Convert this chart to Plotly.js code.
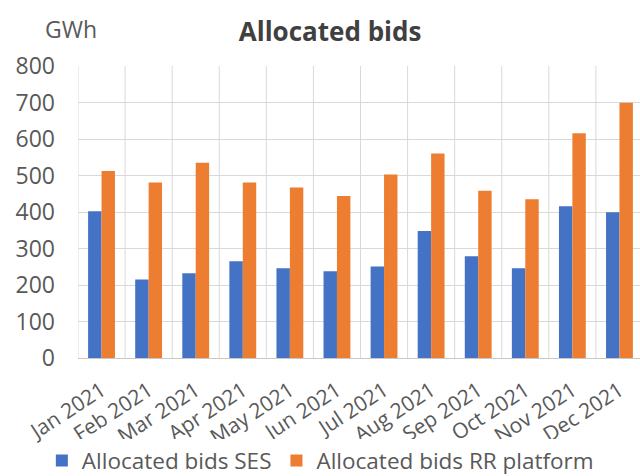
<!DOCTYPE html>
<html>
<head>
<meta charset="utf-8">
<script src="https://cdn.plot.ly/plotly-3.0.1.min.js"></script>
<style>
html,body{margin:0;padding:0;overflow:hidden;background:#fff;}
#chart{width:646px;height:476px;}
</style>
</head>
<body>
<div id="chart"></div>
<script>
var months = ["Jan 2021","Feb 2021","Mar 2021","Apr 2021","May 2021","Jun 2021","Jul 2021","Aug 2021","Sep 2021","Oct 2021","Nov 2021","Dec 2021"];
var sesValues = [402, 215, 232, 265, 246, 238, 251, 348, 279, 246, 416, 399];
var rrValues = [512, 481, 535, 481, 467, 444, 503, 560, 458, 435, 616, 699];
var yTicks = [0, 100, 200, 300, 400, 500, 600, 700, 800];

var FONT = "Open Sans, Noto Sans, sans-serif";
var GREY = "#595959";

var traces = [
  {type: "bar", name: "Allocated bids SES", x: months, y: sesValues, marker: {color: "#4472C4"}},
  {type: "bar", name: "Allocated bids RR platform", x: months, y: rrValues, marker: {color: "#ED7D31"}}
];

var layout = {
  width: 646, height: 476,
  margin: {l: 78, r: 3, t: 66, b: 118, autoexpand: false},
  paper_bgcolor: "#fff", plot_bgcolor: "#fff",
  font: {family: FONT, color: GREY, size: 22},
  title: {text: "<b>Allocated bids</b>", font: {family: FONT, size: 26, color: "#404040"}, x: 0.511, xanchor: "center", y: 0.933, yanchor: "middle"},
  barmode: "group", bargap: 0.43, bargroupgap: 0,
  xaxis: {
    type: "category", range: [-0.5, 11.5], automargin: false,
    tickangle: -33, tickfont: {size: 21, color: GREY},
    showgrid: false, showline: true, linecolor: "#c8c8c8", linewidth: 1,
    ticks: "", ticklabelstandoff: 11, fixedrange: true
  },
  yaxis: {
    range: [0, 800], tickvals: yTicks, ticktext: yTicks.map(String), automargin: false,
    tickfont: {size: 23, color: GREY},
    showgrid: true, gridcolor: "#d9d9d9", gridwidth: 1,
    zeroline: false, showline: false, ticks: "", ticklabelstandoff: 22, fixedrange: true
  },
  shapes: months.map(function(m, i){
    return {type: "line", xref: "x", yref: "paper", x0: i - 0.5, x1: i - 0.5, y0: 0, y1: 1, line: {color: "#d9d9d9", width: 1}, layer: "below"};
  }),
  annotations: [
    {text: "GWh", xref: "paper", yref: "paper", x: -0.062, y: 1.127, xanchor: "left", yanchor: "middle", showarrow: false, font: {size: 23, color: GREY}}
  ],
  legend: {orientation: "h", x: -0.064, xanchor: "left", y: -0.352, yanchor: "middle", font: {size: 22.5, color: GREY}, itemwidth: 30, traceorder: "normal"},
  showlegend: true
};

Plotly.newPlot("chart", traces, layout, {displayModeBar: false, staticPlot: true});
</script>
</body>
</html>
